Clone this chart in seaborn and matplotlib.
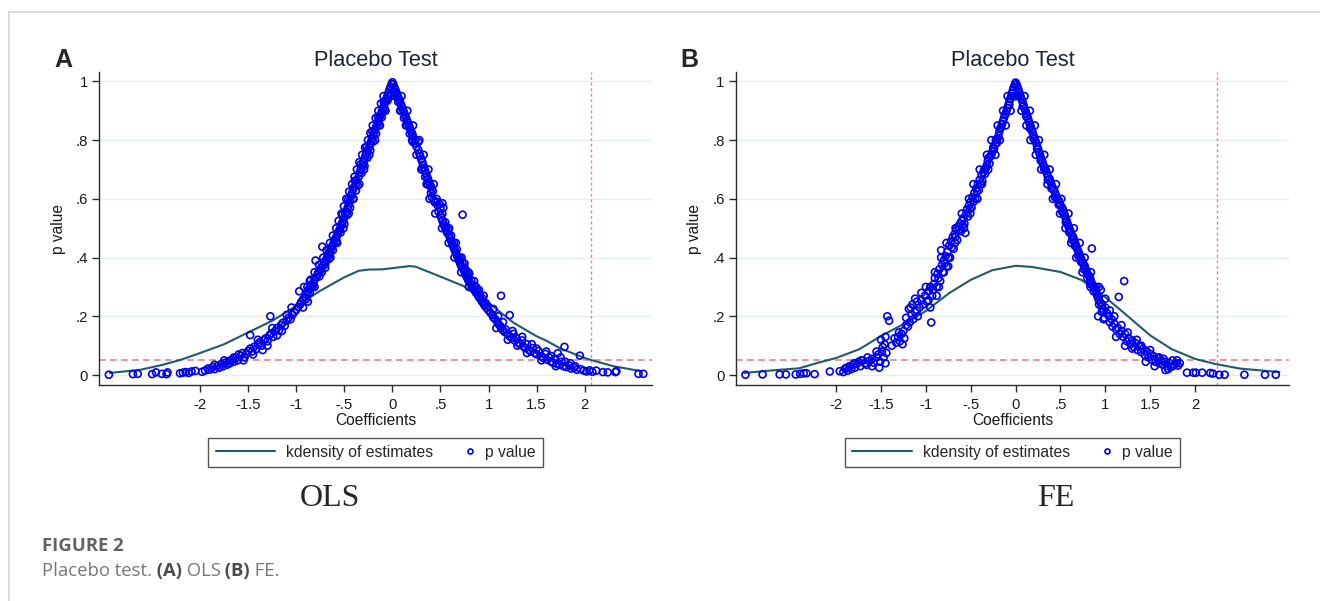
import numpy as np
import pandas as pd
import seaborn as sns
import matplotlib.pyplot as plt
from matplotlib.lines import Line2D
from matplotlib.legend_handler import HandlerLine2DCompound

# ---- data ----
# kernel density of the placebo estimates
ols_kd_x = [-2.94, -2.62, -2.4, -2.2, -2.0, -1.75, -1.5, -1.25, -1.0, -0.75, -0.5, -0.35, -0.25, -0.1,
            0.0, 0.18, 0.24, 0.5, 0.74, 1.0, 1.26, 1.5, 1.6, 1.75, 2.0, 2.1, 2.3, 2.59]
ols_kd_y = [0.007, 0.018, 0.034, 0.052, 0.075, 0.105, 0.145, 0.185, 0.235, 0.287, 0.333, 0.355, 0.359, 0.360,
            0.364, 0.371, 0.369, 0.335, 0.303, 0.246, 0.178, 0.132, 0.117, 0.090, 0.058, 0.048, 0.030, 0.013]
fe_kd_x = [-3.02, -2.74, -2.41, -2.2, -2.0, -1.74, -1.5, -1.22, -1.0, -0.74, -0.5, -0.26,
           0.0, 0.185, 0.5, 0.74, 1.0, 1.26, 1.5, 1.74, 2.0, 2.22, 2.5, 2.94]
fe_kd_y = [0.007, 0.015, 0.023, 0.042, 0.058, 0.088, 0.133, 0.178, 0.218, 0.279, 0.324, 0.357,
           0.372, 0.368, 0.351, 0.323, 0.265, 0.198, 0.135, 0.088, 0.055, 0.038, 0.022, 0.010]

# p values against placebo coefficients, OLS
ols_left_coef = [
    -2.95, -2.70, -2.65, -2.50, -2.46, -2.40, -2.35, -2.34, -2.21, -2.18,
    -2.15, -2.12, -2.09, -2.05, -1.98, -1.95, -1.92, -1.90, -1.87, -1.85,
    -1.82, -1.80, -1.78, -1.76, -1.74, -1.72, -1.70, -1.69, -1.67, -1.65,
    -1.63, -1.61, -1.58, -1.56, -1.54, -1.52, -1.50, -1.48, -1.48, -1.46,
    -1.44, -1.42, -1.40, -1.38, -1.36, -1.34, -1.32, -1.30, -1.28, -1.27,
    -1.26, -1.24, -1.22, -1.20, -1.18, -1.16, -1.14, -1.12, -1.10, -1.08,
    -1.06, -1.04, -1.02, -1.00, -0.98, -0.97, -0.96, -0.95, -0.93, -0.91,
    -0.90, -0.88, -0.87, -0.85, -0.84, -0.82, -0.81, -0.80, -0.79, -0.78,
    -0.77, -0.75, -0.74, -0.73, -0.72, -0.71, -0.70, -0.69, -0.68, -0.67,
    -0.66, -0.65, -0.64, -0.63, -0.62, -0.61, -0.60, -0.59, -0.58, -0.57,
    -0.56, -0.55, -0.54, -0.53, -0.52, -0.51, -0.50, -0.49, -0.48, -0.47,
    -0.46, -0.45, -0.44, -0.43, -0.42, -0.41, -0.40, -0.38, -0.37, -0.35,
    -0.34, -0.33, -0.31, -0.30, -0.29, -0.28, -0.27, -0.26, -0.24, -0.23,
    -0.22, -0.21, -0.20, -0.19, -0.18, -0.17, -0.16, -0.15, -0.14, -0.13,
    -0.12, -0.11, -0.10, -0.09, -0.08, -0.07, -0.06, -0.05, -0.04, -0.03,
    -0.02, -0.01, 0.00, -0.90, -0.86, -0.83, -0.76, -0.70, -0.66, -0.62,
    -0.58, -0.54, -0.50, -0.47, -0.44, -0.41, -0.38, -0.36, -0.32, -0.29,
    -0.26, -0.23, -0.20, -0.17, -0.14, -0.11, -0.08, -0.05, -0.03, -0.52,
    -0.46, -0.39, -0.33, -0.27, -0.21, -0.15, -0.09,
]
ols_left_p = [
    .001, .003, .004, .003, .009, .004, .003, .009, .006, .008,
    .010, .007, .012, .014, .011, .015, .022, .018, .027, .020,
    .031, .025, .038, .030, .042, .035, .048, .040, .052, .045,
    .058, .050, .066, .075, .060, .072, .082, .090, .136, .080,
    .096, .088, .104, .112, .100, .118, .125, .115, .135, .200,
    .142, .130, .150, .160, .152, .170, .178, .168, .185, .195,
    .190, .205, .215, .222, .232, .285, .240, .248, .258, .265,
    .275, .282, .292, .298, .308, .315, .325, .390, .332, .342,
    .350, .355, .366, .437, .372, .384, .378, .392, .400, .408,
    .418, .412, .428, .436, .442, .450, .458, .466, .472, .480,
    .488, .495, .503, .512, .520, .530, .538, .548, .556, .566,
    .575, .585, .596, .610, .620, .632, .640, .650, .663, .676,
    .690, .700, .716, .726, .736, .748, .756, .766, .776, .788,
    .797, .806, .816, .826, .836, .845, .853, .862, .871, .880,
    .888, .897, .906, .914, .924, .934, .943, .953, .962, .972,
    .981, .990, .997, .258, .280, .300, .336, .365, .395, .425,
    .455, .485, .515, .545, .570, .600, .628, .645, .688, .712,
    .740, .765, .795, .822, .850, .878, .905, .935, .955, .545,
    .598, .662, .718, .775, .830, .880, .930,
]
ols_right_coef = [
    0.01, 0.02, 0.03, 0.04, 0.05, 0.06, 0.07, 0.08, 0.09, 0.10,
    0.11, 0.12, 0.13, 0.14, 0.15, 0.16, 0.17, 0.18, 0.19, 0.20,
    0.21, 0.22, 0.24, 0.27, 0.23, 0.25, 0.27, 0.28, 0.29, 0.30,
    0.31, 0.32, 0.33, 0.34, 0.35, 0.36, 0.37, 0.38, 0.39, 0.40,
    0.41, 0.42, 0.41, 0.43, 0.44, 0.46, 0.47, 0.49, 0.50, 0.52,
    0.53, 0.48, 0.50, 0.51, 0.52, 0.53, 0.54, 0.55, 0.56, 0.57,
    0.59, 0.60, 0.61, 0.62, 0.63, 0.64, 0.65, 0.66, 0.67, 0.68,
    0.69, 0.70, 0.71, 0.72, 0.73, 0.74, 0.75, 0.76, 0.77, 0.78,
    0.79, 0.80, 0.82, 0.83, 0.84, 0.86, 0.87, 0.89, 0.90, 0.92,
    0.93, 0.95, 0.96, 0.98, 1.00, 0.03, 0.06, 0.09, 0.12, 0.15,
    0.18, 0.21, 0.31, 0.34, 0.37, 0.40, 0.55, 0.58, 0.61, 0.64,
    0.67, 0.70, 0.73, 0.76, 0.79, 0.82, 0.85, 0.88, 0.91, 0.94,
    0.97, 0.99, 1.02, 1.04, 1.05, 1.07, 1.09, 1.10, 1.12, 1.13,
    1.13, 1.15, 1.17, 1.18, 1.20, 1.22, 1.22, 1.24, 1.26, 1.27,
    1.29, 1.31, 1.33, 1.35, 1.36, 1.38, 1.40, 1.42, 1.44, 1.46,
    1.48, 1.50, 1.52, 1.55, 1.57, 1.59, 1.61, 1.63, 1.65, 1.67,
    1.69, 1.71, 1.72, 1.74, 1.76, 1.78, 1.79, 1.81, 1.84, 1.86,
    1.89, 1.92, 1.95, 1.96, 1.99, 2.02, 2.05, 2.08, 2.12, 2.19,
    2.24, 2.32, 2.33, 2.56, 2.61,
]
ols_right_p = [
    .990, .980, .972, .964, .955, .946, .938, .930, .920, .912,
    .904, .895, .886, .878, .868, .860, .852, .843, .834, .826,
    .818, .808, .800, .794, .790, .778, .766, .754, .745, .735,
    .726, .716, .706, .696, .686, .676, .668, .658, .650, .642,
    .634, .626, .605, .595, .588, .590, .578, .582, .568, .585,
    .570, .556, .545, .535, .525, .516, .508, .500, .492, .484,
    .475, .466, .458, .448, .440, .432, .424, .416, .408, .400,
    .392, .384, .376, .368, .546, .360, .352, .345, .336, .330,
    .322, .316, .308, .300, .294, .286, .280, .272, .265, .258,
    .250, .243, .236, .228, .220, .960, .930, .900, .875, .850,
    .822, .795, .705, .675, .648, .620, .520, .495, .475, .450,
    .428, .400, .380, .360, .340, .322, .305, .290, .275, .260,
    .245, .235, .212, .205, .196, .190, .182, .174, .168, .270,
    .160, .152, .146, .155, .140, .204, .132, .126, .140, .118,
    .125, .110, .104, .118, .098, .092, .105, .085, .080, .092,
    .075, .070, .082, .064, .058, .072, .052, .060, .046, .042,
    .055, .038, .074, .035, .045, .030, .096, .027, .032, .022,
    .025, .018, .066, .020, .015, .012, .016, .011, .015, .010,
    .009, .010, .013, .004, .004,
]
# the band is several markers thick: points either side of it
ols_extra_coef = [
    -0.885, -0.81, -0.72, -0.65, -0.585, -0.53, -0.48, -0.42, -0.37, -0.315, -0.255, -0.205, -0.147, -0.093,
    -0.81, -0.735, -0.645, -0.575, -0.51, -0.455, -0.405, -0.345, -0.295, -0.24, -0.18, -0.13, -0.072, -0.018,
    -0.85, -0.765, -0.685, -0.62, -0.56, -0.505, -0.45, -0.395, -0.345, -0.285, -0.23, -0.175, -0.12,
    0.87, 0.79, 0.72, 0.66, 0.59, 0.52, 0.46, 0.43, 0.375, 0.325, 0.28, 0.215, 0.155, 0.095,
    0.795, 0.715, 0.645, 0.585, 0.515, 0.445, 0.385, 0.355, 0.30, 0.25, 0.205, 0.14, 0.08, 0.02,
    -0.93, -0.88, -0.92, -0.86, -1.05, -1.10, -1.15, -1.20, -1.25, -1.30, -1.35, -1.40, -1.45, -1.55,
    -1.60, -1.65, -1.75, -1.85,
    1.05, 1.10, 1.08, 1.15, 1.20, 1.25, 1.30, 1.35, 1.40, 1.45, 1.50, 1.55, 1.60, 1.65,
    1.70, 1.75, 1.80, 1.85, 1.90, 0.95, 0.90, 0.85, 0.80, 0.75,
]
ols_extra_p = [
    .30, .35, .40, .45, .50, .55, .60, .65, .70, .75, .80, .85, .90, .95,
    .30, .35, .40, .45, .50, .55, .60, .65, .70, .75, .80, .85, .90, .95,
    .325, .375, .425, .475, .525, .575, .625, .675, .725, .775, .825, .875, .925,
    .30, .35, .40, .45, .50, .55, .60, .65, .70, .75, .80, .85, .90, .95,
    .30, .35, .40, .45, .50, .55, .60, .65, .70, .75, .80, .85, .90, .95,
    .230, .250, .300, .320, .230, .205, .150, .135, .160, .100, .085, .120, .070, .050,
    .070, .060, .050, .035,
    .225, .200, .160, .180, .120, .150, .100, .130, .075, .105, .090, .050, .080, .065,
    .030, .060, .045, .040, .030, .270, .290, .320, .345, .380,
]

# p values against placebo coefficients, FE
fe_left_coef = [
    -3.01, -2.82, -2.63, -2.56, -2.45, -2.40, -2.36, -2.33, -2.24, -2.07,
    -1.96, -1.90, -1.87, -1.85, -1.83, -1.81, -1.79, -1.77, -1.75, -1.73,
    -1.70, -1.68, -1.66, -1.63, -1.60, -1.58, -1.55, -1.53, -1.52, -1.51,
    -1.50, -1.49, -1.48, -1.47, -1.46, -1.45, -1.44, -1.43, -1.41, -1.35,
    -1.33, -1.31, -1.29, -1.27, -1.26, -1.24, -1.22, -1.20, -1.19, -1.18,
    -1.16, -1.15, -1.14, -1.12, -1.10, -1.09, -1.07, -1.05, -1.03, -1.01,
    -0.99, -0.97, -0.94, -0.95, -0.93, -0.91, -0.90, -0.88, -0.87, -0.85,
    -0.84, -0.83, -0.82, -0.81, -0.80, -0.78, -0.77, -0.76, -0.74, -0.73,
    -0.72, -0.70, -0.69, -0.68, -0.66, -0.65, -0.64, -0.62, -0.61, -0.60,
    -0.58, -0.57, -0.56, -0.55, -0.54, -0.53, -0.52, -0.50, -0.49, -0.48,
    -0.46, -0.45, -0.44, -0.42, -0.41, -0.40, -0.38, -0.37, -0.35, -0.34,
    -0.32, -0.31, -0.29, -0.28, -0.26, -0.25, -0.23, -0.22, -0.21, -0.19,
    -0.18, -0.17, -0.15, -0.14, -0.13, -0.12, -0.10, -0.09, -0.08, -0.07,
    -0.06, -0.05, -0.04, -0.03, -0.02, -0.01, 0.00, -0.97, -0.92, -0.86,
    -0.79, -0.75, -0.71, -0.67, -0.63, -0.59, -0.51, -0.47, -0.43, -0.39,
    -0.36, -0.33, -0.30, -0.27, -0.24, -0.20, -0.16, -0.11, -0.07, -0.04,
]
fe_left_p = [
    .001, .002, .002, .002, .002, .004, .006, .006, .003, .012,
    .013, .022, .015, .030, .020, .035, .025, .038, .045, .030,
    .050, .040, .035, .048, .055, .042, .060, .070, .025, .045,
    .120, .080, .095, .060, .105, .040, .075, .200, .185, .125,
    .110, .130, .115, .140, .105, .125, .195, .165, .225, .180,
    .205, .240, .190, .215, .250, .200, .230, .255, .240, .270,
    .250, .285, .179, .300, .270, .310, .330, .300, .345, .360,
    .320, .425, .375, .350, .390, .405, .370, .420, .440, .400,
    .455, .470, .430, .480, .495, .460, .505, .515, .490, .525,
    .535, .515, .484, .550, .565, .540, .578, .590, .570, .605,
    .620, .600, .635, .650, .630, .665, .680, .660, .700, .685,
    .715, .730, .720, .745, .760, .775, .785, .800, .790, .815,
    .830, .840, .855, .865, .875, .885, .900, .910, .920, .930,
    .940, .950, .960, .970, .980, .988, .996, .255, .290, .330,
    .380, .400, .435, .470, .495, .510, .565, .590, .625, .650,
    .690, .705, .740, .750, .770, .805, .845, .890, .920, .950,
]
fe_right_coef = [
    0.01, 0.02, 0.03, 0.04, 0.05, 0.06, 0.07, 0.08, 0.09, 0.10,
    0.11, 0.12, 0.13, 0.14, 0.15, 0.16, 0.17, 0.18, 0.19, 0.20,
    0.21, 0.22, 0.23, 0.24, 0.25, 0.26, 0.27, 0.28, 0.29, 0.30,
    0.31, 0.33, 0.34, 0.35, 0.36, 0.38, 0.39, 0.40, 0.41, 0.43,
    0.44, 0.45, 0.46, 0.48, 0.49, 0.50, 0.52, 0.53, 0.54, 0.55,
    0.56, 0.57, 0.58, 0.59, 0.60, 0.61, 0.63, 0.64, 0.65, 0.66,
    0.67, 0.68, 0.69, 0.70, 0.71, 0.72, 0.73, 0.74, 0.75, 0.77,
    0.78, 0.79, 0.80, 0.82, 0.83, 0.84, 0.85, 0.85, 0.86, 0.88,
    0.89, 0.90, 0.91, 0.92, 0.93, 0.95, 0.96, 0.97, 0.98, 0.04,
    0.08, 0.12, 0.16, 0.20, 0.24, 0.28, 0.32, 0.36, 0.40, 0.44,
    0.48, 0.52, 0.56, 0.60, 0.63, 0.66, 0.70, 0.73, 0.76, 0.80,
    0.83, 0.87, 0.90, 0.93, 0.96, 0.99, 1.00, 1.02, 1.04, 1.05,
    1.07, 1.08, 1.10, 1.12, 1.14, 1.15, 1.16, 1.18, 1.20, 1.21,
    1.22, 1.24, 1.26, 1.28, 1.30, 1.32, 1.34, 1.36, 1.38, 1.40,
    1.42, 1.44, 1.46, 1.48, 1.50, 1.52, 1.54, 1.56, 1.58, 1.60,
    1.62, 1.64, 1.66, 1.67, 1.69, 1.71, 1.73, 1.75, 1.77, 1.79,
    1.81, 1.91, 1.98, 2.01, 2.08, 2.17, 2.20, 2.27, 2.33, 2.55,
    2.78, 2.90,
]
fe_right_p = [
    .990, .982, .973, .964, .955, .945, .937, .928, .918, .908,
    .900, .890, .882, .872, .862, .853, .845, .835, .826, .815,
    .808, .798, .790, .780, .770, .760, .752, .742, .733, .725,
    .715, .706, .695, .685, .676, .668, .658, .648, .640, .632,
    .620, .612, .603, .596, .586, .578, .570, .560, .551, .542,
    .532, .524, .515, .506, .498, .490, .476, .470, .462, .452,
    .444, .436, .427, .420, .412, .404, .396, .388, .380, .372,
    .362, .354, .345, .338, .330, .320, .431, .312, .304, .296,
    .288, .280, .270, .262, .254, .245, .236, .226, .218, .950,
    .915, .880, .840, .805, .770, .730, .700, .665, .635, .605,
    .580, .555, .520, .485, .460, .440, .405, .385, .360, .330,
    .310, .285, .300, .240, .215, .195, .230, .210, .200, .180,
    .190, .165, .175, .155, .160, .266, .140, .150, .130, .320,
    .140, .115, .125, .105, .118, .095, .108, .085, .098, .078,
    .090, .068, .080, .060, .072, .052, .064, .045, .058, .040,
    .050, .035, .045, .017, .030, .042, .028, .050, .035, .040,
    .032, .008, .008, .008, .008, .007, .005, .001, .001, .001,
    .001, .001,
]
fe_extra_coef = [
    -0.95, -0.90, -0.83, -0.77, -0.67, -0.60, -0.52, -0.47, -0.40, -0.32, -0.27, -0.20, -0.14, -0.09,
    -0.855, -0.805, -0.735, -0.675, -0.575, -0.505, -0.425, -0.375, -0.305, -0.225, -0.175, -0.11, -0.055, -0.005,
    0.93, 0.84, 0.77, 0.715, 0.65, 0.59, 0.51, 0.45, 0.38, 0.32, 0.26, 0.215, 0.16, 0.10,
    0.835, 0.745, 0.675, 0.62, 0.555, 0.495, 0.415, 0.355, 0.285, 0.225, 0.165, 0.12, 0.065, 0.005,
    -1.00, -1.05, -1.10, -1.12, -1.17, -1.22, -1.25, -1.30, -1.38, -1.45, -1.55, -1.60, -1.65, -1.72,
    -1.80, -1.88, -1.92, -0.95, -0.88, -0.80, -0.75,
    0.95, 1.00, 1.05, 1.10, 1.12, 1.18, 1.22, 1.25, 1.30, 1.35, 1.40, 1.45, 1.50, 1.55,
    1.60, 1.65, 1.70, 1.75, 1.80, 1.83, 0.92, 0.98,
]
fe_extra_p = [
    .30, .35, .40, .45, .50, .55, .60, .65, .70, .75, .80, .85, .90, .95,
    .30, .35, .40, .45, .50, .55, .60, .65, .70, .75, .80, .85, .90, .95,
    .30, .35, .40, .45, .50, .55, .60, .65, .70, .75, .80, .85, .90, .95,
    .30, .35, .40, .45, .50, .55, .60, .65, .70, .75, .80, .85, .90, .95,
    .300, .280, .220, .260, .230, .170, .150, .145, .100, .130, .080, .030, .060, .050,
    .040, .025, .010, .230, .270, .350, .370,
    .290, .260, .220, .200, .130, .170, .100, .145, .090, .120, .100, .045, .085, .030,
    .060, .055, .020, .030, .050, .040, .200, .190,
]

# true estimates (vertical reference lines) and significance cut-off
ols_true_coef = 2.07
fe_true_coef = 2.24
p_cut = 0.05

x_ticks = [-2, -1.5, -1, -0.5, 0, 0.5, 1, 1.5, 2]
x_ticklabels = ["-2", "-1.5", "-1", "-.5", "0", ".5", "1", "1.5", "2"]
y_ticks = [0, 0.2, 0.4, 0.6, 0.8, 1.0]
y_ticklabels = ["0", ".2", ".4", ".6", ".8", "1"]

KD_COLOR = "#215a6c"
PT_COLOR = "#0000f0"
REF_RED = "#e4838f"

sns.set_theme(style="white")
plt.rcParams["font.family"] = ["Liberation Sans", "DejaVu Sans"]


class MarkerAtEnd(HandlerLine2DCompound):
    # Stata puts the marker key right next to its label
    def get_xdata(self, legend, xdescent, ydescent, width, height, fontsize):
        return [-xdescent, -xdescent + width], [-xdescent + width - 0.25 * fontsize]


def draw_panel(ax, df, kd, true_coef, xlim):
    ax.grid(axis="y", color="#e4edef", lw=1)
    ax.set_axisbelow(True)
    ax.axhline(p_cut, color=REF_RED, lw=1.2, dashes=(4, 2.6), zorder=1.5)
    ax.axvline(true_coef, color=REF_RED, lw=1.0, dashes=(2, 2), zorder=1.5)
    sns.lineplot(data=kd, x="x", y="y", ax=ax, color=KD_COLOR, lw=1.5, zorder=2)
    sns.scatterplot(data=df, x="coef", y="pval", ax=ax, marker="o", s=25,
                    color=PT_COLOR, facecolor="none", edgecolor=PT_COLOR,
                    linewidth=1.2, zorder=3, legend=False)

    ax.set_xlim(*xlim)
    ax.set_ylim(-0.034, 1.032)
    ax.set_xticks(x_ticks)
    ax.set_xticklabels(x_ticklabels)
    ax.set_yticks(y_ticks)
    ax.set_yticklabels(y_ticklabels)
    for s in ["top", "right"]:
        ax.spines[s].set_visible(False)
    for s in ["left", "bottom"]:
        ax.spines[s].set_color("#2a2a2a")
        ax.spines[s].set_linewidth(1.0)
    ax.tick_params(axis="both", direction="out", length=5, width=1, color="#2a2a2a",
                   labelsize=10.7, labelcolor="#1a1a1a", left=True, bottom=True)
    ax.tick_params(axis="x", pad=4)
    ax.tick_params(axis="y", pad=3)
    ax.set_xlabel("Coefficients", fontsize=11.2, color="#1a1a1a", labelpad=1)
    ax.set_ylabel("p value", fontsize=11.2, color="#1a1a1a", labelpad=7)
    ax.set_title("Placebo Test", fontsize=15.7, color="#1c2533", pad=4.5)

    h_line = Line2D([], [], color=KD_COLOR, lw=1.5)
    h_pt = Line2D([], [], ls="none", marker="o", mfc="none", mec=PT_COLOR, ms=3.6, mew=1.2)
    leg = ax.legend([h_line, h_pt], ["kdensity of estimates", "p value"],
                    handler_map={h_pt: MarkerAtEnd()},
                    loc="center", bbox_to_anchor=(0.5, -0.2147), ncol=2,
                    frameon=True, fancybox=False, framealpha=1, edgecolor="#555555",
                    fontsize=11.3, handlelength=3.8, handletextpad=0.7,
                    columnspacing=-1.2, borderpad=0.45)
    leg.get_frame().set_linewidth(1.0)


ols_df = pd.DataFrame({"coef": ols_left_coef + ols_right_coef + ols_extra_coef,
                       "pval": ols_left_p + ols_right_p + ols_extra_p})
fe_df = pd.DataFrame({"coef": fe_left_coef + fe_right_coef + fe_extra_coef,
                      "pval": fe_left_p + fe_right_p + fe_extra_p})
ols_kd = pd.DataFrame({"x": ols_kd_x, "y": ols_kd_y})
fe_kd = pd.DataFrame({"x": fe_kd_x, "y": fe_kd_y})

fig = plt.figure(figsize=(13.2, 6.01), dpi=100)
ax_a = fig.add_axes([0.0752, 0.3594, 0.4187, 0.5208])
ax_b = fig.add_axes([0.5573, 0.3594, 0.4194, 0.5208])

draw_panel(ax_a, ols_df, ols_kd, ols_true_coef, (-3.05, 2.70))
draw_panel(ax_b, fe_df, fe_kd, fe_true_coef, (-3.12, 3.05))

# panel letters and sub-captions
fig.text(0.0477, 0.900, "A", fontsize=18, fontweight="bold", ha="center", va="center")
fig.text(0.522, 0.900, "B", fontsize=18, fontweight="bold", ha="center", va="center")
fig.text(0.250, 0.171, "OLS", fontsize=23, family="Liberation Serif", ha="center", va="center")
fig.text(0.800, 0.171, "FE", fontsize=23, family="Liberation Serif", ha="center", va="center")

# page frame
fig.add_artist(Line2D([0.00705, 0.00705], [0, 0.9805], transform=fig.transFigure,
                      color="#d6d6d6", lw=1.2))
fig.add_artist(Line2D([0.00705, 1], [0.9805, 0.9805], transform=fig.transFigure,
                      color="#d6d6d6", lw=1.2))

# figure caption
cap_font = ["Open Sans", "DejaVu Sans"]
fig.text(0.0316, 0.092, "FIGURE 2", fontsize=13.3, family=cap_font,
         fontweight="bold", color="#626262", ha="left", va="center")
pieces = [("Placebo test.", "normal", "#777777"), (" (A)", "bold", "#4a4a4a"),
          (" OLS", "normal", "#777777"), (" (B)", "bold", "#4a4a4a"),
          (" FE.", "normal", "#777777")]
prev = None
for txt, wt, col in pieces:
    if prev is None:
        prev = fig.text(0.0316, 0.050, txt, fontsize=13.3, family=cap_font,
                        fontweight=wt, color=col, ha="left", va="center")
    else:
        prev = ax_a.annotate(txt, xy=(1, 0), xycoords=prev, fontsize=13.3,
                             family=cap_font, fontweight=wt,
                             color=col, ha="left", va="bottom", annotation_clip=False)

fig.savefig("out.png", dpi=100)
